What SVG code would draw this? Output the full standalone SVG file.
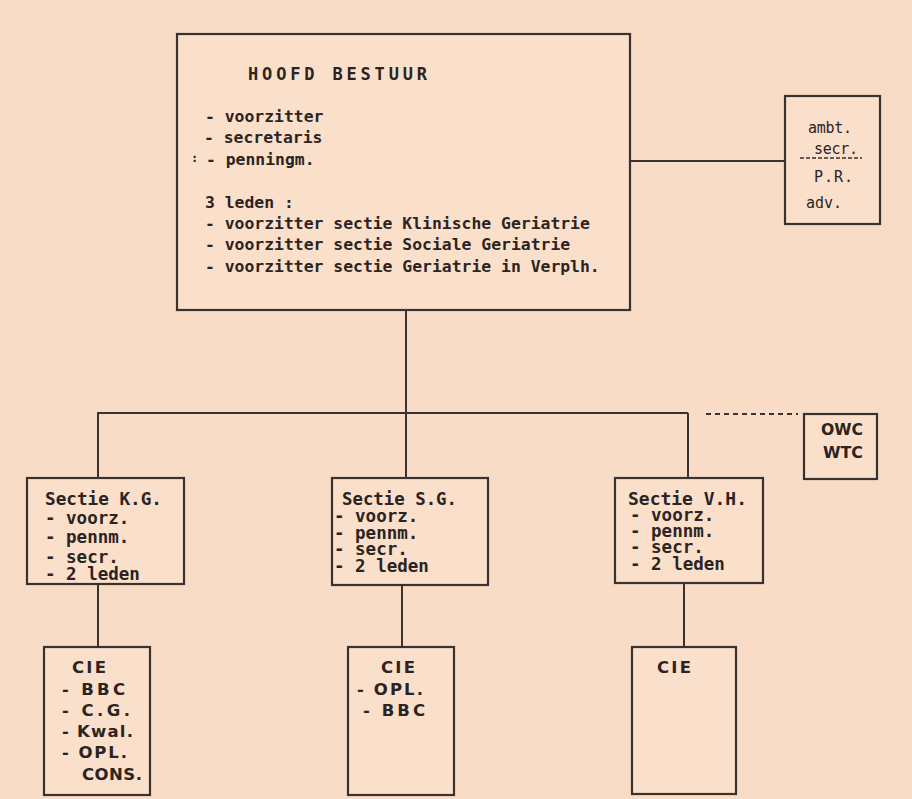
<svg xmlns="http://www.w3.org/2000/svg" width="912" height="799" viewBox="0 0 912 799">
<style>
.bg{fill:#F9DCC5}
.box{fill:#FADFCA;stroke:#3a3230;stroke-width:2.2}
.ln{fill:none;stroke:#3a3230;stroke-width:2}
.dash{fill:none;stroke:#3a3230;stroke-width:2;stroke-dasharray:5 4}
text{font-family:"DejaVu Sans Mono","Liberation Mono",monospace;fill:#2b2422;font-weight:bold}
.m{font-size:16.4px}
.s{font-size:17.5px}
.c{font-family:"DejaVu Sans","Liberation Sans",sans-serif;font-size:16.5px}
.reg{font-weight:normal;font-size:15px}
</style>
<rect class="bg" x="0" y="0" width="912" height="799"/>
<g id="connectors">
<line class="ln" x1="406" y1="310" x2="406" y2="478"/>
<line class="ln" x1="97" y1="413" x2="688" y2="413"/>
<line class="ln" x1="98" y1="413" x2="98" y2="478"/>
<line class="ln" x1="688" y1="413" x2="688" y2="478"/>
<line class="ln" x1="630" y1="161" x2="785" y2="161"/>
<line class="dash" x1="706" y1="414" x2="798" y2="414"/>
<line class="ln" x1="98" y1="584" x2="98" y2="647"/>
<line class="ln" x1="402" y1="585" x2="402" y2="647"/>
<line class="ln" x1="684" y1="583" x2="684" y2="647"/>
</g>
<g id="hoofdbestuur">
<rect class="box" x="177" y="34" width="453" height="276"/>
<text class="m" x="248" y="80" textLength="179" lengthAdjust="spacing" style="font-size:17px">HOOFD BESTUUR</text>
<text class="m" x="205" y="122">- voorzitter</text>
<text class="m" x="204" y="143">- secretaris</text>
<text class="m" x="191" y="162" style="font-size:12px">:</text>
<text class="m" x="206" y="165">- penningm.</text>
<text class="m" x="205" y="208">3 leden :</text>
<text class="m" x="205" y="229">- voorzitter sectie Klinische Geriatrie</text>
<text class="m" x="205" y="250">- voorzitter sectie Sociale Geriatrie</text>
<text class="m" x="205" y="272">- voorzitter sectie Geriatrie in Verplh.</text>
</g>
<g id="ambt">
<rect class="box" x="785" y="96" width="95" height="128"/>
<text class="reg" x="808" y="133" textLength="44" lengthAdjust="spacing">ambt.</text>
<text class="reg" x="814" y="154" textLength="44" lengthAdjust="spacing">secr.</text>
<line class="ln" x1="800" y1="158" x2="862" y2="158" style="stroke-dasharray:4 2;stroke-width:1.6"/>
<text class="reg" x="814" y="182" textLength="39" lengthAdjust="spacing">P.R.</text>
<text class="reg" x="806" y="208" textLength="36" lengthAdjust="spacing">adv.</text>
</g>
<g id="owc">
<rect class="box" x="804" y="414" width="73" height="65"/>
<text class="c" x="821" y="435" textLength="42" lengthAdjust="spacingAndGlyphs">OWC</text>
<text class="c" x="823" y="458" textLength="40" lengthAdjust="spacingAndGlyphs">WTC</text>
</g>
<g id="sectie-kg">
<rect class="box" x="27" y="478" width="157" height="106"/>
<text class="s" x="45" y="505" textLength="117" lengthAdjust="spacingAndGlyphs">Sectie K.G.</text>
<text class="s" x="45" y="524">- voorz.</text>
<text class="s" x="45" y="543">- pennm.</text>
<text class="s" x="45" y="563">- secr.</text>
<text class="s" x="45" y="580">- 2 leden</text>
</g>
<g id="sectie-sg">
<rect class="box" x="332" y="478" width="156" height="107"/>
<text class="s" x="342" y="505" textLength="115" lengthAdjust="spacingAndGlyphs">Sectie S.G.</text>
<text class="s" x="334" y="522">- voorz.</text>
<text class="s" x="334" y="539">- pennm.</text>
<text class="s" x="334" y="555">- secr.</text>
<text class="s" x="334" y="572">- 2 leden</text>
</g>
<g id="sectie-vh">
<rect class="box" x="615" y="478" width="148" height="105"/>
<text class="s" x="628" y="505" textLength="119" lengthAdjust="spacingAndGlyphs">Sectie V.H.</text>
<text class="s" x="630" y="521">- voorz.</text>
<text class="s" x="630" y="537">- pennm.</text>
<text class="s" x="630" y="553">- secr.</text>
<text class="s" x="630" y="570">- 2 leden</text>
</g>
<g id="cie-kg">
<rect class="box" x="44" y="647" width="106" height="148"/>
<text class="c" x="72" y="673" textLength="34" lengthAdjust="spacing">CIE</text>
<text class="c" x="62" y="695" textLength="63" lengthAdjust="spacing">- BBC</text>
<text class="c" x="62" y="716" textLength="68" lengthAdjust="spacing">- C.G.</text>
<text class="c" x="62" y="737" textLength="71" lengthAdjust="spacing">- Kwal.</text>
<text class="c" x="62" y="758" textLength="65" lengthAdjust="spacing">- OPL.</text>
<text class="c" x="82" y="780" textLength="60" lengthAdjust="spacing">CONS.</text>
</g>
<g id="cie-sg">
<rect class="box" x="348" y="647" width="106" height="148"/>
<text class="c" x="381" y="673" textLength="34" lengthAdjust="spacing">CIE</text>
<text class="c" x="357" y="695" textLength="66" lengthAdjust="spacing">- OPL.</text>
<text class="c" x="363" y="716" textLength="62" lengthAdjust="spacing">- BBC</text>
</g>
<g id="cie-vh">
<rect class="box" x="632" y="647" width="104" height="147"/>
<text class="c" x="657" y="673" textLength="34" lengthAdjust="spacing">CIE</text>
</g>
</svg>
